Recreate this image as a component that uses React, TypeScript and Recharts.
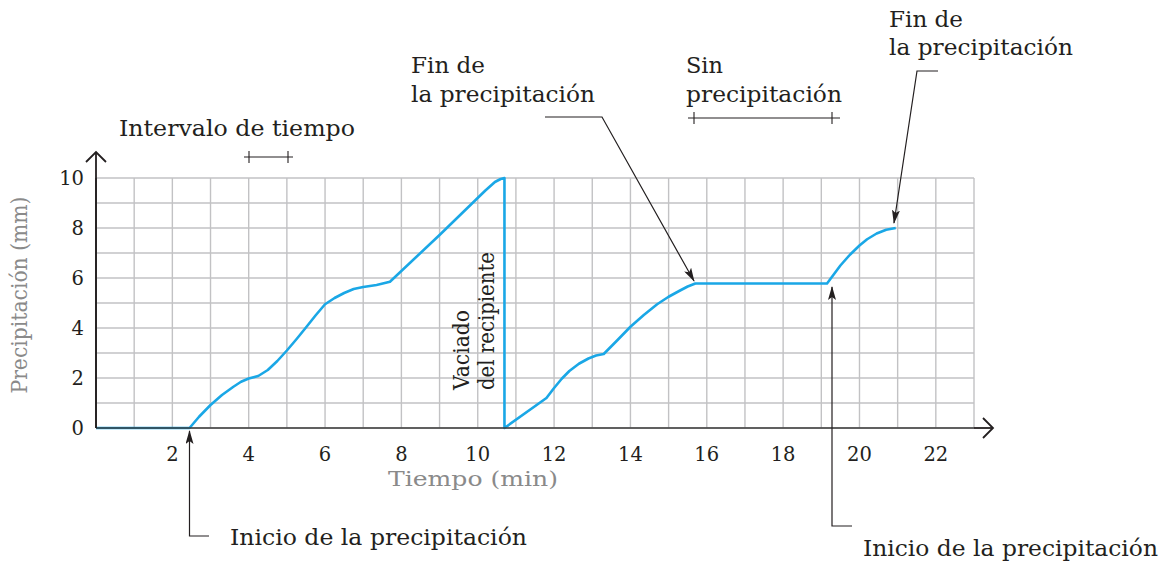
import { LineChart, Line, XAxis, YAxis, CartesianGrid } from 'recharts'

// tiempo (min) y precipitación acumulada (mm)
const tiempo = [
  0, 2.45, 2.7, 3.0, 3.3, 3.6, 3.8, 4.0, 4.25, 4.5, 4.75, 5.0, 5.25, 5.5, 5.75, 6.0, 6.25, 6.5,
  6.75, 7.0, 7.35, 7.7, 9.0, 10.2, 10.45, 10.6, 10.7,
  10.7, 11.8, 12.0, 12.2, 12.4, 12.65, 12.9, 13.1, 13.3, 13.65, 14.0, 14.35, 14.7, 15.0, 15.3,
  15.5, 15.7, 19.15, 19.5, 19.75, 20.0, 20.2, 20.45, 20.7, 20.95,
]
const precipitacion = [
  0, 0, 0.45, 0.92, 1.32, 1.65, 1.85, 1.98, 2.08, 2.32, 2.68, 3.1, 3.55, 4.02, 4.5, 4.95, 5.2, 5.4,
  5.56, 5.64, 5.72, 5.85, 7.72, 9.5, 9.84, 9.96, 10.0,
  0, 1.2, 1.6, 1.97, 2.28, 2.57, 2.78, 2.9, 2.96, 3.5, 4.05, 4.52, 4.95, 5.25, 5.5,
  5.66, 5.78, 5.78, 6.5, 6.93, 7.3, 7.55, 7.78, 7.93, 8.0,
]
const xTicks = [2, 4, 6, 8, 10, 12, 14, 16, 18, 20, 22]
const yTicks = [0, 2, 4, 6, 8, 10]
const gridX = Array.from({ length: 24 }, (_, i) => i)
const gridY = Array.from({ length: 11 }, (_, i) => i)

const data = tiempo.map((t, i) => ({ t, mm: precipitacion[i] }))

const W = 1166
const H = 569
const FONT = '"DejaVu Serif", serif'
const INK = '#231f20'
const GREY = '#8a8a8a'
const BLUE = '#1aa7e6'

export default function App() {
  return (
    <div style={{ position: 'absolute', left: 0, top: 0, width: W, height: H, background: '#fff' }}>
      <LineChart
        width={W}
        height={H}
        data={data}
        margin={{ top: 178, right: 192, bottom: 111, left: 50 }}
      >
        <CartesianGrid
          stroke="#c2c2c4"
          strokeWidth={1.4}
          horizontalValues={gridY}
          verticalValues={gridX}
        />
        <XAxis
          type="number"
          dataKey="t"
          domain={[0, 23]}
          ticks={xTicks}
          tickLine={false}
          axisLine={{ stroke: '#3a3a3a', strokeWidth: 1.6 }}
          tick={{ fill: INK, fontSize: 19.5, fontFamily: FONT }}
          tickMargin={13}
          height={30}
          allowDataOverflow
        />
        <YAxis
          type="number"
          domain={[0, 10]}
          ticks={yTicks}
          tickLine={false}
          axisLine={{ stroke: '#3a3a3a', strokeWidth: 1.6 }}
          tick={{ fill: INK, fontSize: 19.5, fontFamily: FONT }}
          tickMargin={6}
          width={46}
        />
        <Line
          type="linear"
          dataKey="mm"
          stroke={BLUE}
          strokeWidth={2.6}
          strokeLinejoin="round"
          dot={false}
          activeDot={false}
          isAnimationActive={false}
        />
      </LineChart>

      <svg
        width={W}
        height={H}
        style={{ position: 'absolute', left: 0, top: 0, pointerEvents: 'none' }}
        fontFamily={FONT}
        fontSize={23}
        fill={INK}
      >
        <defs>
          <marker id="tip" markerWidth="14" markerHeight="8" refX="13" refY="4" orient="auto" markerUnits="userSpaceOnUse">
            <path d="M0,0 L14,4 L0,8 L3,4 Z" fill={INK} />
          </marker>
        </defs>

        {/* axis arrows */}
        <g stroke={INK} strokeWidth={1.8} fill="none">
          <line x1={96} y1={428} x2={96} y2={152} />
          <polyline points="86,162 96,152 106,162" />
          <line x1={974} y1={428} x2={993} y2={428} />
          <polyline points="983,418 993,428 983,438" />
        </g>

        {/* brackets */}
        <g stroke={INK} strokeWidth={1.1}>
          <line x1={244} y1={157} x2={293} y2={157} />
          <line x1={249} y1={151} x2={249} y2={163} />
          <line x1={288} y1={151} x2={288} y2={163} />
          <line x1={688} y1={118} x2={840} y2={118} />
          <line x1={694} y1={112} x2={694} y2={124} />
          <line x1={832} y1={112} x2={832} y2={124} />
        </g>

        {/* leaders */}
        <g stroke={INK} strokeWidth={1.2} fill="none">
          <polyline points="209,536 189.5,536 189.5,431" markerEnd="url(#tip)" />
          <polyline points="852,526 832,526 832,287" markerEnd="url(#tip)" />
          <polyline points="545,117 602,117 694,281" markerEnd="url(#tip)" />
          <polyline points="938,71 917,71 894,223" markerEnd="url(#tip)" />
        </g>

        <text x={119} y={136} textLength={236} lengthAdjust="spacingAndGlyphs">Intervalo de tiempo</text>
        <text x={411} y={73} textLength={74} lengthAdjust="spacingAndGlyphs">Fin de</text>
        <text x={411} y={102} textLength={184} lengthAdjust="spacingAndGlyphs">la precipitación</text>
        <text x={686} y={73} textLength={37} lengthAdjust="spacingAndGlyphs">Sin</text>
        <text x={686} y={102} textLength={156} lengthAdjust="spacingAndGlyphs">precipitación</text>
        <text x={889} y={27} textLength={74} lengthAdjust="spacingAndGlyphs">Fin de</text>
        <text x={889} y={55} textLength={184} lengthAdjust="spacingAndGlyphs">la precipitación</text>
        <text x={230} y={545} textLength={297} lengthAdjust="spacingAndGlyphs">Inicio de la precipitación</text>
        <text x={863} y={556} textLength={295} lengthAdjust="spacingAndGlyphs">Inicio de la precipitación</text>
        <text x={469} y={390} transform="rotate(-90 469 390)" textLength={80} lengthAdjust="spacingAndGlyphs">
          Vaciado
        </text>
        <text x={494} y={390} transform="rotate(-90 494 390)" textLength={138} lengthAdjust="spacingAndGlyphs">
          del recipiente
        </text>

        <text x={388} y={486} fontSize={21} fill={GREY} textLength={170} lengthAdjust="spacingAndGlyphs">
          Tiempo (min)
        </text>
        <text
          x={27}
          y={295}
          fill={GREY}
          textAnchor="middle"
          transform="rotate(-90 27 295)"
          textLength={197}
          lengthAdjust="spacingAndGlyphs"
        >
          Precipitación (mm)
        </text>
      </svg>
    </div>
  )
}
